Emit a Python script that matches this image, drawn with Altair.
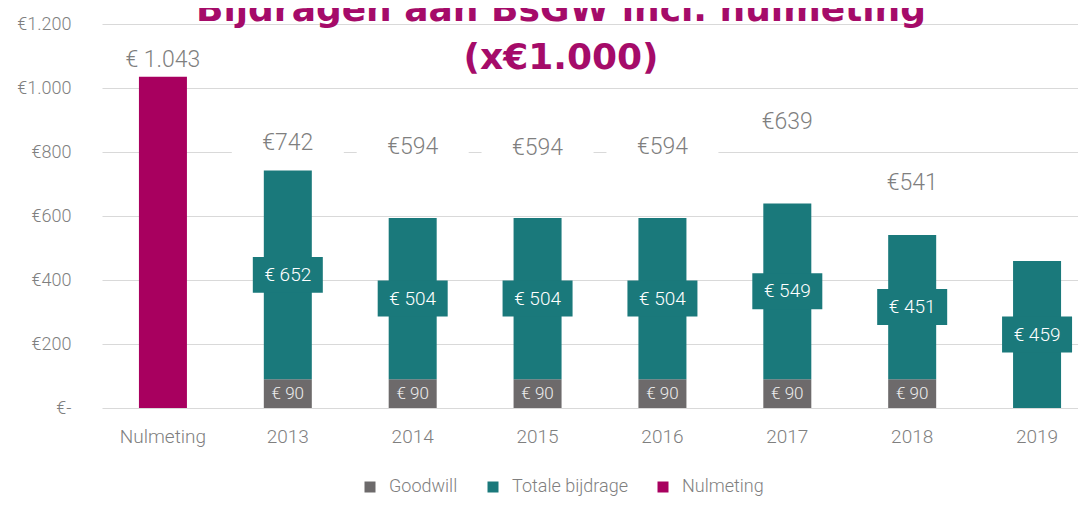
import altair as alt
import pandas as pd

categories = ["Nulmeting", "2013", "2014", "2015", "2016", "2017", "2018", "2019"]
goodwill = [0, 90, 90, 90, 90, 90, 90, 0]
totale_bijdrage = [0, 652, 504, 504, 504, 549, 451, 459]
nulmeting = [1043, 0, 0, 0, 0, 0, 0, 0]
# anchor (in EUR x1000) where the total label sits, as placed in the original
total_label_at = [1088, 828, 816, 812, 816, 894, 703, None]
series = ["Goodwill", "Totale bijdrage", "Nulmeting"]
colors = ["#6d6a6b", "#1a797b", "#a8005f"]
title_lines = ["Bijdragen aan BsGW incl. nulmeting", "(x€1.000)"]
y_ticks = [0, 200, 400, 600, 800, 1000, 1200]

FONT = "Roboto, Liberation Sans, sans-serif"
LIGHT = 300
GREY = "#7f7f7f"

rows = []
for i, c in enumerate(categories):
    for s, vals in zip(series, [goodwill, totale_bijdrage, nulmeting]):
        if vals[i] > 0:
            rows.append({"category": c, "series": s, "value": vals[i], "order": series.index(s)})
long_df = pd.DataFrame(rows)

wide_df = pd.DataFrame({
    "category": categories,
    "goodwill": goodwill,
    "bijdrage": totale_bijdrage,
    "nulmeting": nulmeting,
    "label_at": total_label_at,
})

x_enc = alt.X(
    "category:N",
    sort=categories,
    scale=alt.Scale(range=[0, 996], paddingInner=0.616, paddingOuter=0.296),
    axis=alt.Axis(title=None, domain=False, ticks=False, labelAngle=0,
                  labelFont=FONT, labelFontWeight=LIGHT, labelFontSize=19, labelColor=GREY,
                  labelPadding=19),
)
y_scale = alt.Scale(domain=[0, 1200])

bars = alt.Chart(long_df).mark_bar(size=48).encode(
    x=x_enc,
    y=alt.Y("value:Q", stack="zero", scale=y_scale,
            axis=alt.Axis(title=None, values=y_ticks, domain=False, ticks=False,
                          labelExpr="datum.value == 0 ? '€-' : '€' + replace(format(datum.value, ','), ',', '.')",
                          labelFont=FONT, labelFontWeight=LIGHT, labelFontSize=18, labelColor=GREY,
                          labelPadding=31, grid=True, gridColor="#d9d9d9", gridWidth=1)),
    color=alt.Color("series:N", scale=alt.Scale(domain=series, range=colors),
                    legend=alt.Legend(title=None, orient="none", direction="horizontal",
                                      legendX=259, legendY=454, symbolType="square",
                                      symbolSize=121, symbolStrokeWidth=0, labelFont=FONT,
                                      labelFontWeight=LIGHT, labelFontSize=18, labelColor=GREY,
                                      columnPadding=26, labelOffset=10, padding=0)),
    order=alt.Order("order:Q"),
)

base = alt.Chart(wide_df).transform_calculate(
    total="datum.goodwill + datum.bijdrage + datum.nulmeting",
    mid_b="datum.goodwill + datum.bijdrage / 2",
    mid_g="datum.goodwill / 2",
).transform_calculate(
    total_label="datum.category == 'Nulmeting' ? '€ ' + replace(format(datum.total, ','), ',', '.') : '€' + format(datum.total, 'd')",
    b_label="'€ ' + format(datum.bijdrage, 'd')",
    g_label="'€ ' + format(datum.goodwill, 'd')",
)

totals = base.transform_filter("isValid(datum.label_at)")
white_box = totals.mark_point(
    shape="M-1,-0.3L1,-0.3L1,0.3L-1,0.3Z", filled=True, opacity=1, color="white", size=112 * 112,
).encode(x=x_enc, y=alt.Y("label_at:Q", scale=y_scale))
total_text = totals.mark_text(font=FONT, fontWeight=LIGHT, fontSize=23, color=GREY, baseline="middle").encode(
    x=x_enc, y=alt.Y("label_at:Q", scale=y_scale), text="total_label:N")

inner = base.transform_filter("datum.bijdrage > 0")
teal_box = inner.mark_point(
    shape="M-1,-0.514L1,-0.514L1,0.514L-1,0.514Z", filled=True, opacity=1, color=colors[1], size=70 * 70,
).encode(x=x_enc, y=alt.Y("mid_b:Q", scale=y_scale))
teal_text = inner.mark_text(font=FONT, fontWeight=LIGHT, fontSize=19, color="white", baseline="middle").encode(
    x=x_enc, y=alt.Y("mid_b:Q", scale=y_scale), text="b_label:N")

gw = base.transform_filter("datum.goodwill > 0")
gw_text = gw.mark_text(font=FONT, fontWeight=LIGHT, fontSize=17, color="#eeeeee", baseline="middle").encode(
    x=x_enc, y=alt.Y("mid_g:Q", scale=y_scale), text="g_label:N")

title_df = pd.DataFrame({"line": title_lines})
title1 = alt.Chart(title_df).transform_filter(alt.datum.line == title_lines[0]).mark_text(
    font="DejaVu Sans", fontWeight="bold", fontSize=36, color="#a50b69", baseline="alphabetic", align="center",
).encode(x=alt.value(459), y=alt.value(-3), text="line:N")
title2 = alt.Chart(title_df).transform_filter(alt.datum.line == title_lines[1]).mark_text(
    font="DejaVu Sans", fontWeight="bold", fontSize=36, color="#a50b69", baseline="alphabetic", align="center",
).encode(x=alt.value(459), y=alt.value(45), text="line:N")

chart = alt.layer(bars, white_box, total_text, teal_box, teal_text, gw_text, title1, title2).properties(
    width=976, height=384,
    autosize=alt.AutoSizeParams(type="none"),
    padding={"left": 94, "top": 16, "right": 0, "bottom": 90},
).configure_view(stroke=None)

chart.save("out.html", embed_options={"renderer": "svg", "actions": False})
